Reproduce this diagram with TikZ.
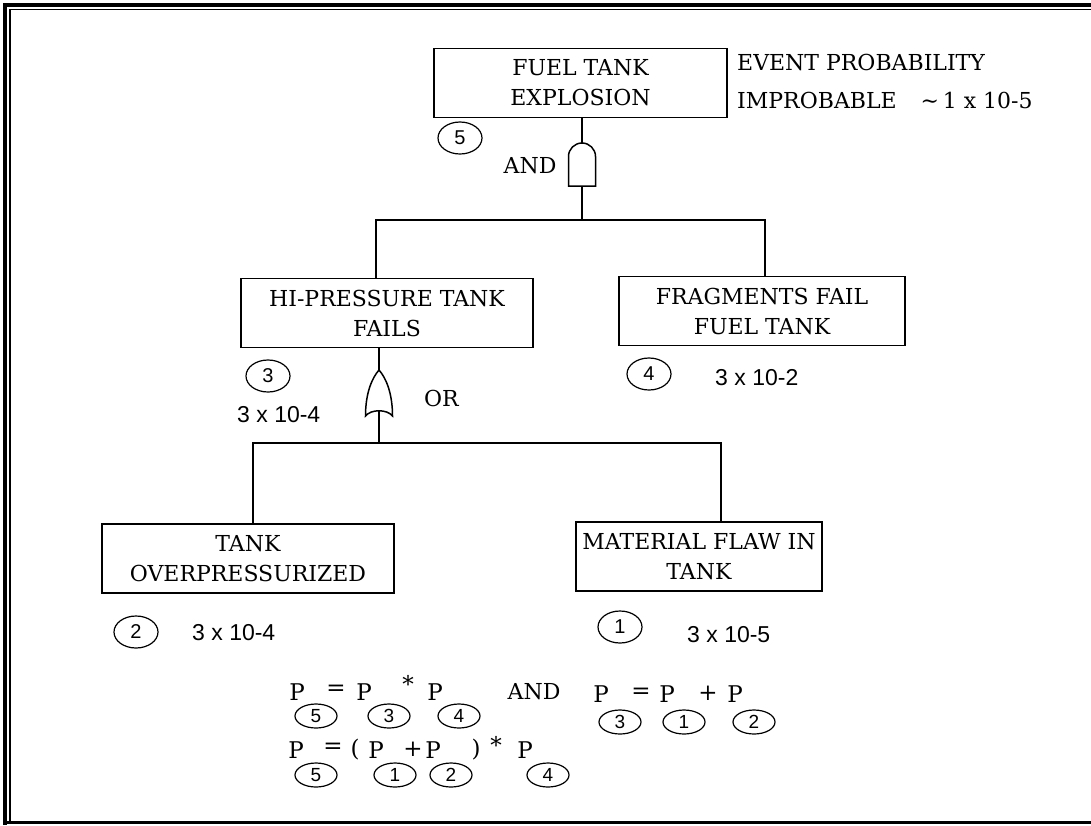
\documentclass[tikz,border=0pt]{standalone}
\usepackage{fontspec}
\setmainfont{DejaVu Serif}
\newfontfamily\numfont{Liberation Sans}
\usetikzlibrary{shapes.geometric}
\begin{document}
\begin{tikzpicture}[x=1pt,y=-1pt,
  box/.style={draw, line width=1.5pt, minimum height=69pt, align=center, inner sep=0pt, font=\fontsize{22}{30}\selectfont},
  lab/.style={draw, ellipse, line width=1.2pt, minimum width=44pt, minimum height=32pt, inner sep=0pt, font=\numfont\fontsize{20}{20}\selectfont},
  sub/.style={draw, ellipse, line width=1.2pt, minimum width=42pt, minimum height=24pt, inner sep=0pt, font=\numfont\fontsize{19}{19}\selectfont},
  num/.style={font=\numfont\fontsize{23}{23}\selectfont, anchor=west, inner sep=0pt},
  txt/.style={font=\fontsize{22}{22}\selectfont, inner sep=0pt},
  ptxt/.style={font=\fontsize{23}{23}\selectfont, inner sep=0pt},
  wire/.style={line width=1.5pt}
]
\useasboundingbox (0,0) rectangle (1091,825);
% frame
\draw[line width=4pt] (5,825) -- (5,5) -- (1091,5);
\draw[line width=1.5pt] (10,822) -- (10,9.5) -- (1091,9.5);
\draw[line width=3pt] (3,822) -- (1091,822);

% top event
\node[box, minimum width=293pt] (top) at (580.5,83) {FUEL TANK\\EXPLOSION};
\node[txt, anchor=west] (ev1) at (737,62) {EVENT PROBABILITY};
\node[txt, anchor=west] (ev2) at (737,100) {IMPROBABLE\hspace{24pt}\textasciitilde\,1\hspace{7pt}x\hspace{7pt}10-5};
\node[lab] (c5) at (460,138) {5};

% AND gate
\coordinate (andtop) at (582,143);
\coordinate (andbot) at (582,186);
\draw[wire] (568.5,186) -- (568.5,156.5) arc(180:360:13.5) -- (595.5,186) -- cycle;
\node[txt] (andl) at (530,166) {AND};
\draw[wire] (top.south -| andtop) -- (andtop);
\coordinate (j1) at (582,220);
\draw[wire] (andbot) -- (j1);

% second level
\node[box, minimum width=292pt] (hi) at (387,313) {HI-PRESSURE TANK\\FAILS};
\node[box, minimum width=286pt] (fr) at (762,311) {FRAGMENTS FAIL\\FUEL TANK};
\draw[wire] ([xshift=-11pt]hi.north) |- (j1);
\draw[wire] ([xshift=3pt]fr.north) |- (j1);
\node[lab] (c3) at (268,376) {3};
\node[num] (p3) at (237,415) {3 x 10-4};
\node[lab] (c4) at (649,374) {4};
\node[num] (p4) at (715,378) {3 x 10-2};

% OR gate
\coordinate (ortop) at (379,370);
\coordinate (orbot) at (379,411);
\draw[wire] (365.5,416) .. controls (365.5,393) and (372,378) .. (ortop) .. controls (386,378) and (392.5,393) .. (392.5,416) .. controls (387,409) and (371,409) .. (365.5,416) -- cycle;
\draw[wire] (hi.south -| ortop) -- (ortop);
\node[txt, anchor=west] (orl) at (424,398) {OR};
\coordinate (j2) at (379,443);
\draw[wire] (orbot) -- (j2);

% basic events
\node[box, minimum width=292pt] (tk) at (248,558.5) {TANK\\OVERPRESSURIZED};
\node[box, minimum width=246pt] (mt) at (699,556.5) {MATERIAL FLAW IN\\TANK};
\draw[wire] ([xshift=5pt]tk.north) |- (j2);
\draw[wire] ([xshift=22pt]mt.north) |- (j2);
\node[lab] (c2) at (136,632) {2};
\node[num] (p2) at (192,633) {3 x 10-4};
\node[lab] (c1) at (620,627) {1};
\node[num] (p1) at (687,635) {3 x 10-5};

% formulas line 1
\node[ptxt] (fa1) at (297,692) {P};
\node[sub] (fa1c) at (316,716) {5};
\node[ptxt] (fa2) at (336,690) {=};
\node[ptxt] (fa3) at (364,692) {P};
\node[sub] (fa3c) at (389,716) {3};
\node[ptxt] (fa4) at (408,684) {*};
\node[ptxt] (fa5) at (435,692) {P};
\node[sub] (fa5c) at (459,716) {4};
\node[txt] (fa6) at (534,692) {AND};
\node[ptxt] (fb1) at (601,694) {P};
\node[sub] (fb1c) at (620,722) {3};
\node[ptxt] (fb2) at (641,693) {=};
\node[ptxt] (fb3) at (667,694) {P};
\node[sub] (fb3c) at (684,722) {1};
\node[ptxt] (fb4) at (708,693) {+};
\node[ptxt] (fb5) at (735,694) {P};
\node[sub] (fb5c) at (754,722) {2};
% formulas line 2
\node[ptxt] (fc1) at (296,750) {P};
\node[sub] (fc1c) at (316,775) {5};
\node[ptxt] (fc2) at (333,748) {=};
\node[ptxt] (fc3) at (355,750) {(};
\node[ptxt] (fc4) at (376,750) {P};
\node[sub] (fc4c) at (395,775) {1};
\node[ptxt] (fc5) at (413,749) {+};
\node[ptxt] (fc6) at (433,750) {P};
\node[sub] (fc6c) at (451,775) {2};
\node[ptxt] (fc7) at (476,750) {)};
\node[ptxt] (fc8) at (496,745) {*};
\node[ptxt] (fc9) at (525,750) {P};
\node[sub] (fc9c) at (548,775) {4};
\end{tikzpicture}
\end{document}
